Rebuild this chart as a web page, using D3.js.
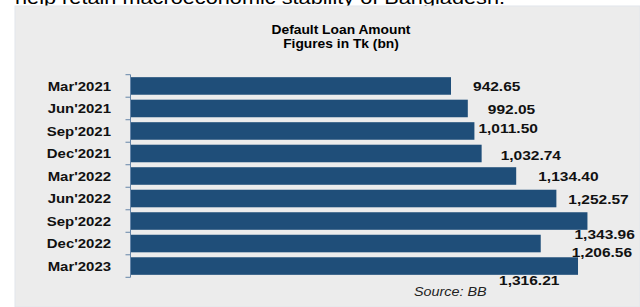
<!DOCTYPE html>
<meta charset="utf-8">
<style>

body {
  margin: 0;
  background-color: #fff;
  font-family: "Liberation Sans", Arial, sans-serif;
}

</style>
<body>

<div id="chart1"></div>

<script src="https://cdn.jsdelivr.net/npm/d3@7"></script>
<script>

// data
var quarters = ["Mar'2021", "Jun'2021", "Sep'2021", "Dec'2021", "Mar'2022",
                "Jun'2022", "Sep'2022", "Dec'2022", "Mar'2023"];
var defaultLoan = [942.65, 992.05, 1011.50, 1032.74, 1134.40,
                   1252.57, 1343.96, 1206.56, 1316.21];
var titleLines = ["Default Loan Amount", "Figures in Tk (bn)"];

// the labels in the original sit a bit off the bar ends, nudge them (dx, dy)
var labelNudge = [[22, 0], [20, 1], [4, -3], [19, 2], [22, 0],
                  [12, 1], [-13, 13], [31, 9], [-79, 14]];

var W = 640, H = 307;
var stretch = 1.15;   // text in the source image is a little wide

drawChart();

function drawChart(){
  var svg = d3.select("#chart1").append("svg")
    .attr("width", W)
    .attr("height", H);

  // bit of the sentence above the chart that got cut off
  svg.append("text")
    .attr("x", 15)
    .attr("y", 4)
    .attr("textLength", 490)
    .attr("lengthAdjust", "spacingAndGlyphs")
    .style("font-size", "19px")
    .style("fill", "#000")
    .text("help retain macroeconomic stability of Bangladesh.");

  svg.append("rect")
    .attr("x", 15)
    .attr("y", 6)
    .attr("width", W - 15)
    .attr("height", H - 6)
    .style("fill", "#ececec")
    .style("stroke", "#e2e6ec")
    .style("stroke-width", 1);

  titleLines.forEach(function(t, i){
    wideText(svg, 341, 34 + i * 13.5, t, "middle")
      .style("font-size", "12px")
      .style("font-weight", "bold");
  });

  var x = d3.scaleLinear()
    .domain([0, 1400])
    .range([130.5, 606.5]);

  var y = d3.scaleBand()
    .domain(quarters)
    .range([74.7, 277.3])
    .paddingInner(0.22)
    .paddingOuter(0.11);

  svg.selectAll(".bar")
    .data(defaultLoan)
    .enter().append("rect")
    .attr("class", "bar")
    .attr("x", x(0))
    .attr("y", function(d, i){ return y(quarters[i]); })
    .attr("width", function(d){ return x(d) - x(0); })
    .attr("height", y.bandwidth())
    .style("fill", "#1f4e79");

  // axis line + ticks between the categories
  var gap = y.step() * y.paddingInner() / 2;
  var ax = svg.append("g").style("stroke", "#6585a8").style("stroke-width", 1);
  ax.append("line")
    .attr("x1", x(0)).attr("x2", x(0))
    .attr("y1", y.range()[0]).attr("y2", y.range()[1]);
  var tickYs = quarters.map(function(q){ return y(q) - gap; });
  tickYs.push(y.range()[1]);
  ax.selectAll(".tick")
    .data(tickYs)
    .enter().append("line")
    .attr("x1", x(0) - 5).attr("x2", x(0))
    .attr("y1", function(d){ return d; })
    .attr("y2", function(d){ return d; });

  quarters.forEach(function(q, i){
    var cy = y(q) + y.bandwidth() / 2;
    wideText(svg, 111, cy + 4.7, q, "end")
      .style("font-size", "13px")
      .style("font-weight", "bold")
      .style("fill", "#111");

    var v = defaultLoan[i];
    wideText(svg, x(v) + labelNudge[i][0], cy + labelNudge[i][1] + 4.8, d3.format(",.2f")(v), "start")
      .style("font-size", "13.5px")
      .style("font-weight", "bold")
      .style("fill", "#111");
  });

  wideText(svg, 414, 296, "Source: BB", "start")
    .style("font-size", "12.5px")
    .style("font-style", "italic")
    .style("fill", "#222");
}

function wideText(g, px, py, txt, anchor){
  return g.append("text")
    .attr("transform", "translate(" + px + "," + py + ") scale(" + stretch + ",1)")
    .attr("text-anchor", anchor)
    .text(txt);
}

</script>
